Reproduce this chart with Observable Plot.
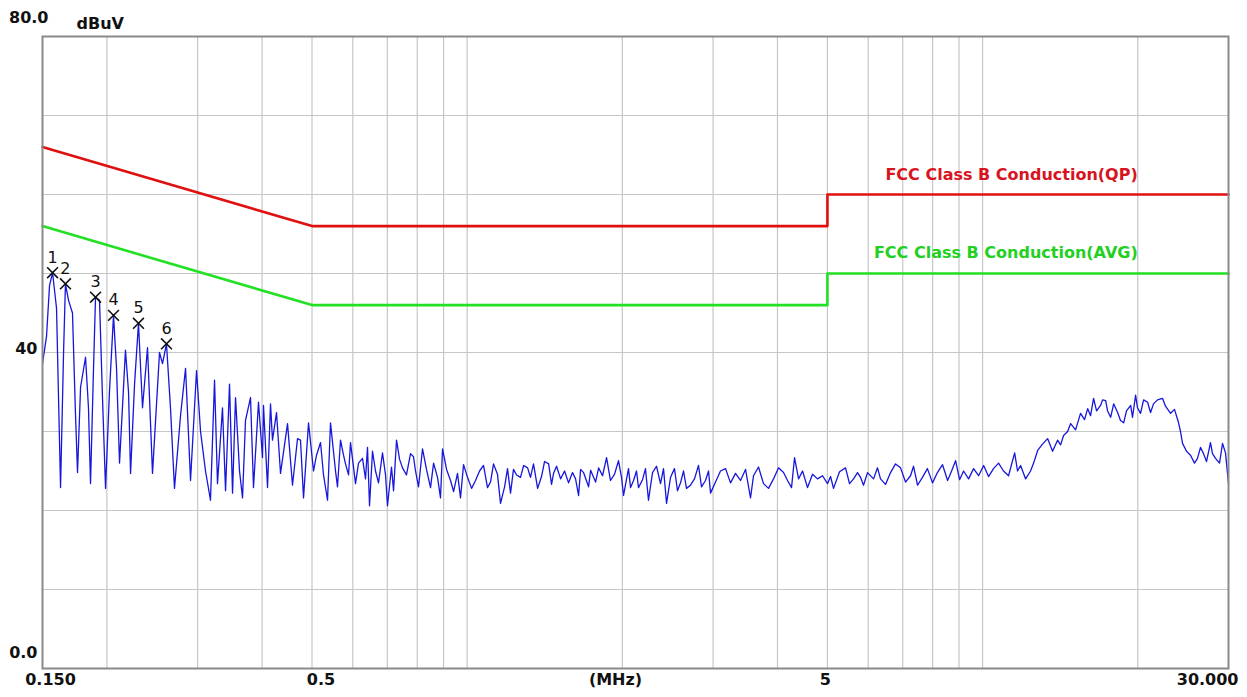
<!DOCTYPE html>
<html><head><meta charset="utf-8">
<script src="https://cdn.jsdelivr.net/npm/d3@7"></script>
<script src="https://cdn.jsdelivr.net/npm/@observablehq/plot@0.6"></script>
<style>html,body{margin:0;padding:0;background:#fff;} #chart{width:1247px;height:697px;}</style>
</head><body><div id="chart"></div>
<script>
const tracePoints = [
[0.1500,38.6],[0.1527,42.0],[0.1548,48.5],[0.1569,50.1],[0.1597,45.6],[0.1626,22.9],[0.1648,40.0],[0.1662,48.7],[0.1685,46.6],[0.1715,45.0],
[0.1738,32.3],[0.1754,24.8],[0.1778,35.6],[0.1818,39.4],[0.1842,33.0],[0.1859,23.4],[0.1884,38.0],[0.1901,47.0],[0.1935,46.6],[0.1961,34.3],
[0.1988,22.8],[0.2023,35.0],[0.2060,44.7],[0.2088,38.0],[0.2116,26.0],[0.2173,40.3],[0.2203,35.0],[0.2223,24.7],[0.2263,36.0],[0.2303,43.7],
[0.2345,33.0],[0.2398,40.6],[0.2452,24.7],[0.2530,40.0],[0.2564,38.6],[0.2610,41.1],[0.2657,33.0],[0.2705,22.8],[0.2779,32.0],[0.2842,38.0],
[0.2906,23.8],[0.2985,37.7],[0.3039,30.0],[0.3107,25.0],[0.3177,21.3],[0.3235,36.5],[0.3278,23.4],[0.3352,33.0],[0.3398,22.5],[0.3459,36.0],
[0.3506,22.2],[0.3553,34.3],[0.3617,25.0],[0.3666,21.6],[0.3715,31.4],[0.3799,34.3],[0.3850,22.9],[0.3937,33.7],[0.4008,26.7],[0.4026,33.3],
[0.4099,22.9],[0.4154,33.5],[0.4191,28.9],[0.4267,32.4],[0.4344,24.7],[0.4482,31.0],[0.4583,23.2],[0.4687,29.1],[0.4750,28.9],[0.4814,21.6],
[0.4923,31.1],[0.5034,25.0],[0.5102,27.0],[0.5194,28.6],[0.5264,24.5],[0.5359,21.3],[0.5431,31.1],[0.5554,25.0],[0.5603,23.0],[0.5679,28.9],
[0.5756,27.0],[0.5808,25.9],[0.5886,24.5],[0.5939,28.6],[0.6073,23.4],[0.6155,26.0],[0.6266,26.6],[0.6350,24.0],[0.6407,28.0],[0.6465,20.6],
[0.6552,27.5],[0.6640,25.0],[0.6730,23.5],[0.6851,27.3],[0.6944,24.5],[0.7006,20.6],[0.7132,25.5],[0.7197,22.5],[0.7294,28.9],[0.7392,26.5],
[0.7492,25.4],[0.7626,24.5],[0.7764,27.2],[0.7869,26.8],[0.7940,25.0],[0.8047,23.0],[0.8192,27.8],[0.8339,25.2],[0.8490,22.9],[0.8607,26.0],
[0.8760,24.2],[0.8878,21.6],[0.8958,27.8],[0.9121,25.2],[0.9284,23.8],[0.9411,22.4],[0.9578,24.7],[0.9707,21.6],[0.9840,25.8],[1.0016,24.2],
[1.020,22.8],[1.0381,23.8],[1.057,25.0],[1.0758,25.7],[1.0952,22.9],[1.110,23.6],[1.1250,25.9],[1.145,24.6],[1.1607,20.9],[1.182,23.0],
[1.1976,25.3],[1.2138,22.2],[1.230,25.2],[1.247,24.5],[1.269,24.2],[1.287,25.7],[1.310,25.4],[1.327,24.2],[1.345,25.9],[1.370,22.8],
[1.394,24.3],[1.413,26.2],[1.439,25.9],[1.458,23.3],[1.471,24.7],[1.491,25.6],[1.518,24.0],[1.545,25.0],[1.573,23.5],[1.601,24.8],
[1.623,24.0],[1.645,21.9],[1.660,25.2],[1.682,24.8],[1.720,23.0],[1.736,25.1],[1.759,24.2],[1.775,23.6],[1.799,25.4],[1.831,24.4],
[1.864,26.7],[1.897,23.8],[1.932,24.6],[1.966,26.3],[1.993,24.2],[2.011,21.9],[2.056,25.3],[2.075,22.9],[2.103,23.8],[2.131,25.0],
[2.150,22.9],[2.189,23.9],[2.218,25.3],[2.248,21.3],[2.289,24.8],[2.330,25.6],[2.372,23.4],[2.404,25.3],[2.437,20.9],[2.481,24.2],
[2.525,25.3],[2.559,22.5],[2.594,23.5],[2.629,25.0],[2.664,22.8],[2.712,23.2],[2.761,24.0],[2.811,25.7],[2.849,23.0],[2.900,23.8],
[2.940,25.0],[2.966,22.2],[3.033,23.6],[3.101,25.0],[3.172,25.3],[3.243,23.5],[3.316,24.7],[3.391,23.8],[3.468,25.2],[3.546,21.6],
[3.594,24.4],[3.675,25.5],[3.758,23.4],[3.843,22.8],[3.930,24.0],[4.019,25.4],[4.110,24.8],[4.184,23.8],[4.259,22.9],[4.317,26.7],
[4.395,24.0],[4.474,25.0],[4.575,22.9],[4.678,24.6],[4.784,24.0],[4.892,24.4],[5.002,23.4],[5.070,24.3],[5.138,22.8],[5.278,24.9],
[5.421,25.4],[5.519,23.4],[5.619,24.0],[5.720,24.8],[5.797,24.2],[5.875,23.2],[5.981,24.8],[6.144,24.0],[6.254,25.4],[6.339,24.0],
[6.482,23.3],[6.629,24.8],[6.778,25.9],[6.932,25.4],[7.088,23.6],[7.248,24.4],[7.346,25.6],[7.479,23.2],[7.644,24.2],[7.816,25.3],
[7.996,23.5],[8.173,24.8],[8.362,25.8],[8.553,23.8],[8.707,25.0],[8.864,26.3],[9.024,23.9],[9.186,25.0],[9.394,24.0],[9.606,25.3],
[9.823,24.4],[10.05,25.7],[10.27,24.3],[10.50,25.3],[10.74,26.0],[10.98,25.0],[11.23,24.4],[11.54,27.3],[11.69,25.0],[11.85,25.7],
[12.12,24.0],[12.39,25.0],[12.56,26.0],[12.79,27.6],[13.07,28.4],[13.37,29.1],[13.67,27.5],[13.98,28.9],[14.17,28.3],[14.36,29.5],
[14.62,30.0],[14.82,31.0],[15.15,30.2],[15.49,32.3],[15.77,31.5],[15.99,32.9],[16.20,32.0],[16.42,34.2],[16.64,32.6],[16.94,33.3],
[17.09,34.0],[17.33,33.9],[17.48,32.6],[17.72,31.8],[17.96,33.5],[18.28,32.4],[18.52,31.4],[18.78,31.1],[19.02,32.6],[19.38,33.3],
[19.54,31.8],[19.81,34.6],[19.98,33.0],[20.25,32.3],[20.53,34.0],[20.90,33.7],[21.18,32.4],[21.46,33.5],[21.85,34.0],[22.34,34.2],
[22.64,33.2],[23.16,32.3],[23.57,32.8],[24.00,31.1],[24.21,30.0],[24.43,28.5],[24.87,27.5],[25.32,27.0],[25.77,26.0],[26.12,26.6],
[26.47,28.0],[26.83,27.2],[27.19,26.2],[27.68,28.6],[27.93,27.2],[28.31,26.6],[28.82,26.0],[29.21,28.5],[29.60,27.3],[30.00,23.4]
];
// Limit lines
const qpFreq = [0.15, 0.5, 5, 5, 30];
const qpLevel = [66, 56, 56, 60, 60];
const avgFreq = [0.15, 0.5, 5, 5, 30];
const avgLevel = [56, 46, 46, 50, 50];
const qpName = "FCC Class B Conduction(QP)";
const avgName = "FCC Class B Conduction(AVG)";
// Peak markers
const markerFreq = [0.1569, 0.1662, 0.1901, 0.2060, 0.2303, 0.2610];
const markerLevel = [50.1, 48.7, 47.0, 44.7, 43.7, 41.1];
const markerLabel = ["1", "2", "3", "4", "5", "6"];
// Grid and ticks
const gridFreq = [0.2,0.3,0.4,0.5,0.6,0.7,0.8,0.9,1,2,3,4,5,6,7,8,9,10,20];
const gridLevel = [10,20,30,40,50,60,70];
const yTickVals = [80, 40, 0];
const yTickLabels = ["80.0", "40", "0.0"];
const xTickVals = [0.15, 0.5, 5, 30];
const xTickLabels = ["0.150", "0.5", "5", "30.000"];
const yUnit = "dBuV";
const xUnit = "(MHz)";
const legendFreq = 20;

const trace = tracePoints.map(([f, v]) => ({f, v}));
const qp = qpFreq.map((f, i) => ({f, v: qpLevel[i]}));
const avg = avgFreq.map((f, i) => ({f, v: avgLevel[i]}));
const markers = markerFreq.map((f, i) => ({f, v: markerLevel[i], t: markerLabel[i]}));
const yTicks = yTickVals.map((v, i) => ({v, t: yTickLabels[i]}));
const xTicks = xTickVals.map((f, i) => ({f, t: xTickLabels[i]}));

const font = "DejaVu Sans";
const lab = {fontFamily: font, fontSize: 16, fontWeight: "bold", fill: "#111"};

const chart = Plot.plot({
  width: 1247, height: 697,
  marginLeft: 42, marginRight: 19, marginTop: 36, marginBottom: 29,
  x: {type: "log", domain: [0.15, 30], axis: null},
  y: {domain: [0, 80], axis: null},
  style: {background: "#fff"},
  marks: [
    Plot.ruleX(gridFreq, {stroke: "#c6c6c6", strokeWidth: 1.2}),
    Plot.ruleY(gridLevel, {stroke: "#c6c6c6", strokeWidth: 1.2}),
    Plot.line(qp, {x: "f", y: "v", stroke: "#e01010", strokeWidth: 2.6}),
    Plot.line(avg, {x: "f", y: "v", stroke: "#22e022", strokeWidth: 2.6}),
    Plot.line(trace, {x: "f", y: "v", stroke: "#1616dc", strokeWidth: 1.3}),
    Plot.dot(markers, {x: "f", y: "v", symbol: "times", r: 5, stroke: "#111", strokeWidth: 1.6}),
    Plot.text(markers, {x: "f", y: "v", text: "t", dy: -15, fontFamily: font, fontSize: 16, fill: "#111"}),
    Plot.frame({stroke: "#8a8a8a", strokeWidth: 2}),
    // legend labels
    Plot.text([{f: legendFreq, v: qpLevel[qpLevel.length - 1], t: qpName}], {x: "f", y: "v", text: "t", textAnchor: "end", dy: -20, fontFamily: font, fontSize: 16, fontWeight: "bold", fill: "#d8141e"}),
    Plot.text([{f: legendFreq, v: avgLevel[avgLevel.length - 1], t: avgName}], {x: "f", y: "v", text: "t", textAnchor: "end", dy: -21, fontFamily: font, fontSize: 16, fontWeight: "bold", fill: "#22d022"}),
    // y tick labels
    Plot.text([yTicks[0]], {x: xTickVals[0], y: "v", text: "t", textAnchor: "end", dx: 6, dy: -19, ...lab}),
    Plot.text([yTicks[1]], {x: xTickVals[0], y: "v", text: "t", textAnchor: "end", dx: -5, dy: -4, ...lab}),
    Plot.text([yTicks[2]], {x: xTickVals[0], y: "v", text: "t", textAnchor: "end", dx: -5, dy: -16, ...lab}),
    Plot.text([yUnit], {frameAnchor: "top-left", text: d => d, textAnchor: "start", dx: 34, dy: -19, ...lab}),
    // x tick labels
    Plot.text([xTicks[0]], {x: "f", frameAnchor: "bottom", text: "t", dx: 8, dy: 16, ...lab}),
    Plot.text([xTicks[1]], {x: "f", frameAnchor: "bottom", text: "t", dx: 9, dy: 16, ...lab}),
    Plot.text([xTicks[2]], {x: "f", frameAnchor: "bottom", text: "t", dx: -2, dy: 16, ...lab}),
    Plot.text([xTicks[3]], {x: "f", frameAnchor: "bottom", text: "t", textAnchor: "end", dx: 10, dy: 16, ...lab}),
    Plot.text([xUnit], {frameAnchor: "bottom", text: d => d, dx: -20, dy: 16, ...lab})
  ]
});
document.getElementById("chart").appendChild(chart);
</script>
</body></html>
